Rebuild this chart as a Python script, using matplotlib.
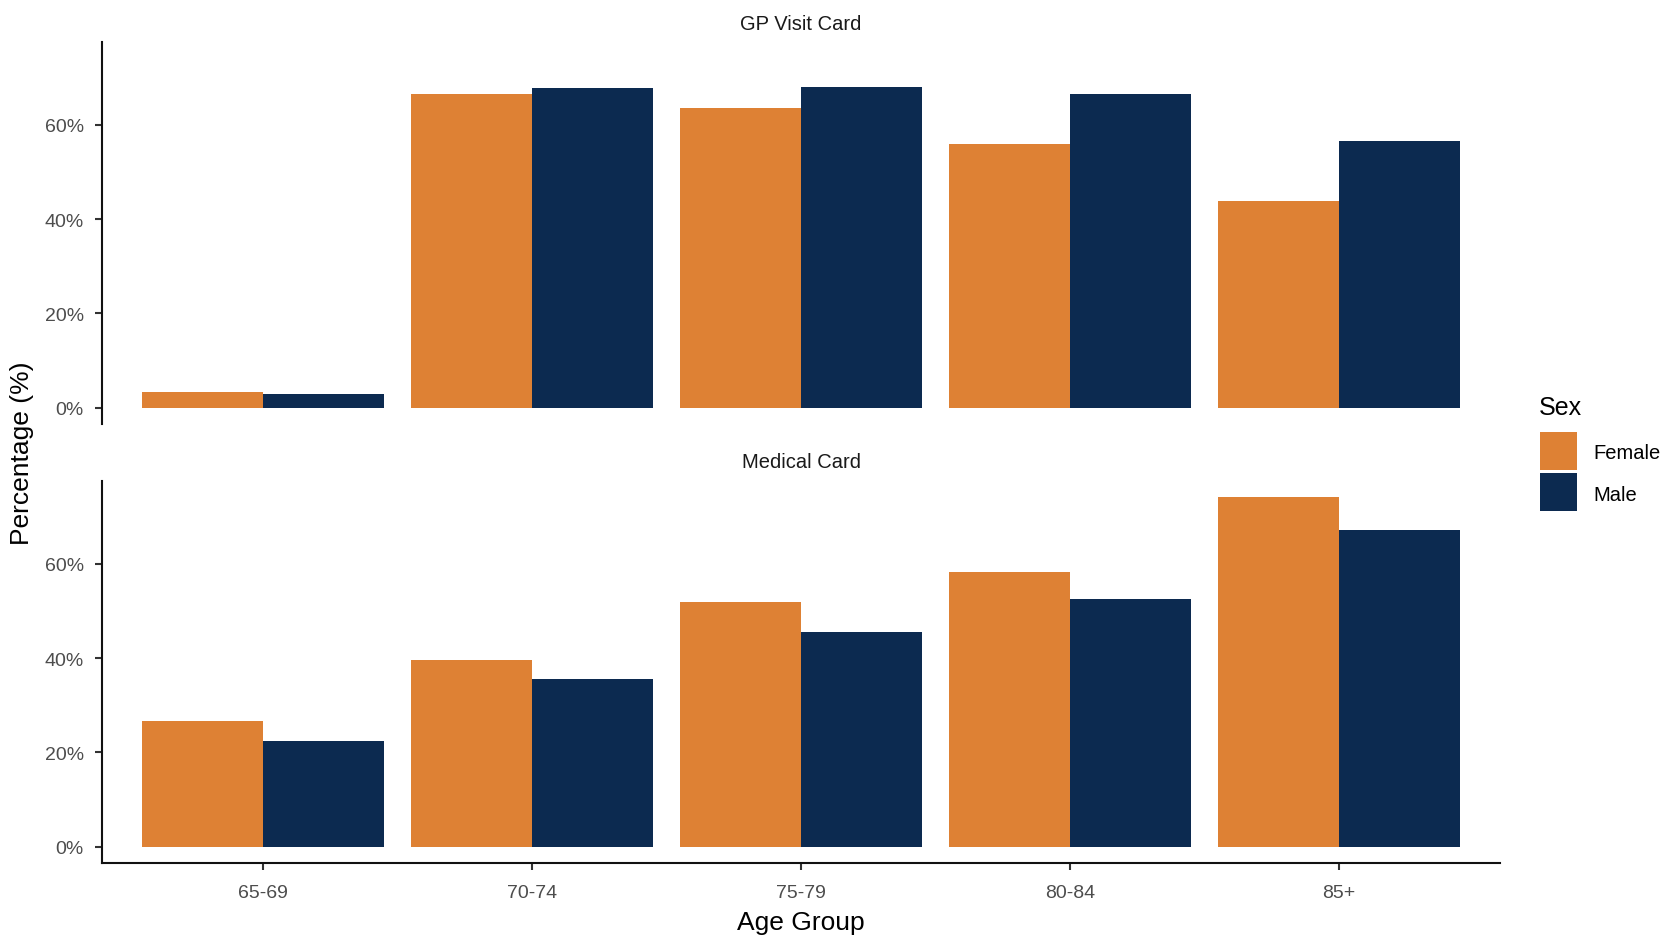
import matplotlib
matplotlib.use("Agg")
import matplotlib.pyplot as plt
from matplotlib.patches import Rectangle
import numpy as np

plt.rcParams['font.family'] = ['Liberation Sans', 'DejaVu Sans']

age_groups = ["65-69", "70-74", "75-79", "80-84", "85+"]
sexes = ["Female", "Male"]
panels = ["GP Visit Card", "Medical Card"]

gp_female = [3.3, 66.5, 63.6, 55.9, 43.9]
gp_male = [2.8, 67.8, 68.1, 66.5, 56.5]
mc_female = [26.7, 39.7, 51.9, 58.2, 74.1]
mc_male = [22.5, 35.6, 45.6, 52.6, 67.2]

colors = {"Female": "#DE8134", "Male": "#0C2A50"}
tick_color = "#4D4D4D"

W, H = 1664, 937
fig = plt.figure(figsize=(W / 100, H / 100), dpi=100)

def ax_rect(left, top, right, bottom):
    return [left / W, 1 - bottom / H, (right - left) / W, (bottom - top) / H]

ax_top = fig.add_axes(ax_rect(102, 43, 1500, 425))
ax_bot = fig.add_axes(ax_rect(102, 482, 1500, 864))

x = np.arange(len(age_groups))
bw = 0.45
data = {
    "GP Visit Card": (gp_female, gp_male),
    "Medical Card": (mc_female, mc_male),
}

for ax, title, bottom_row in [(ax_top, panels[0], False), (ax_bot, panels[1], True)]:
    fem, mal = data[title]
    ax.bar(x - bw / 2, fem, width=bw, color=colors["Female"], linewidth=0)
    ax.bar(x + bw / 2, mal, width=bw, color=colors["Male"], linewidth=0)
    ax.set_xlim(-0.6, 4.6)
    ax.set_ylim(-3.5, 77.6)
    ax.set_yticks([0, 20, 40, 60])
    ax.set_yticklabels(["0%", "20%", "40%", "60%"])
    for s in ["top", "right"]:
        ax.spines[s].set_visible(False)
    ax.spines["left"].set_linewidth(1.5)
    ax.spines["left"].set_color("#111111")
    ax.tick_params(axis="y", length=5, width=1.5, color="#333333",
                   labelcolor=tick_color, labelsize=14, pad=8)
    if bottom_row:
        ax.spines["bottom"].set_linewidth(1.5)
        ax.spines["bottom"].set_color("#111111")
        ax.set_xticks(x)
        ax.set_xticklabels(age_groups)
        ax.tick_params(axis="x", length=5, width=1.5, color="#333333",
                       labelcolor=tick_color, labelsize=14, pad=10)
    else:
        ax.spines["bottom"].set_visible(False)
        ax.set_xticks([])
    ax.set_facecolor("white")

fig.text(801 / W, 1 - 25 / H, panels[0], ha="center", va="center",
         fontsize=14.5, color="#1A1A1A")
fig.text(801 / W, 1 - 463 / H, panels[1], ha="center", va="center",
         fontsize=14.5, color="#1A1A1A")

fig.text(801 / W, 1 - 923 / H, "Age Group", ha="center", va="center",
         fontsize=19, color="black")
fig.text(22 / W, 1 - 453 / H, "Percentage (%)", ha="center", va="center",
         rotation=90, fontsize=19, color="black")

# Legend
fig.text(1539 / W, 1 - 408 / H, "Sex", ha="left", va="center",
         fontsize=18, color="black")
label_centers = [454, 496]
for i, s in enumerate(sexes):
    top = 433 + i * 41
    fig.patches.append(Rectangle((1540 / W, 1 - (top + 38) / H), 37 / W, 38 / H,
                                 transform=fig.transFigure, color=colors[s],
                                 linewidth=0))
    fig.text(1593 / W, 1 - label_centers[i] / H, s, ha="left", va="center",
             fontsize=14.5, color="black")

fig.savefig("out.png", dpi=100, facecolor="white")
